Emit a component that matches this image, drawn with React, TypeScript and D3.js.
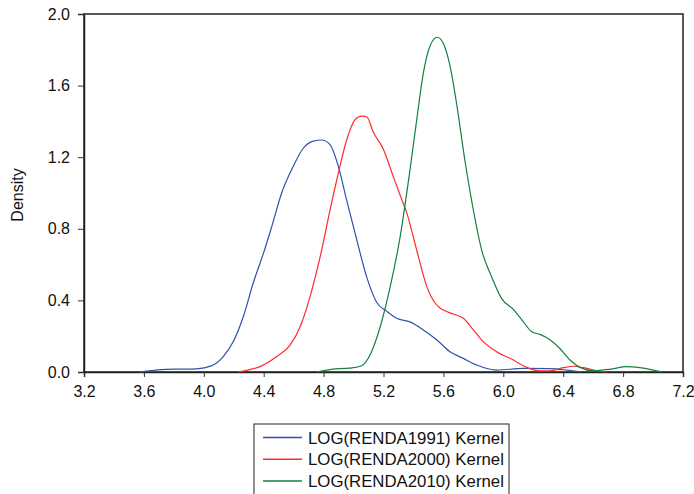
// App.tsx > KernelDensityChart
import React, {useRef, useEffect} from 'react';
import * as d3 from 'd3';

// data
const xTicks = [3.2, 3.6, 4.0, 4.4, 4.8, 5.2, 5.6, 6.0, 6.4, 6.8, 7.2];
const yTicks = [0.0, 0.4, 0.8, 1.2, 1.6, 2.0];

const renda1991: [number, number][] = [
    [3.57, 0], [3.65, 0.008], [3.75, 0.015], [3.85, 0.016], [3.95, 0.018], [4.05, 0.034],
    [4.13, 0.086], [4.197, 0.17], [4.264, 0.31], [4.331, 0.5], [4.397, 0.66], [4.453, 0.81],
    [4.52, 1.0], [4.598, 1.15], [4.664, 1.25], [4.731, 1.29], [4.787, 1.296], [4.843, 1.27],
    [4.898, 1.15], [4.954, 0.96], [5.021, 0.74], [5.088, 0.53], [5.154, 0.39], [5.221, 0.34],
    [5.288, 0.3], [5.377, 0.28], [5.466, 0.235], [5.555, 0.18], [5.644, 0.113], [5.733, 0.076],
    [5.822, 0.039], [5.956, 0.011], [6.134, 0.02], [6.312, 0.019], [6.423, 0.011], [6.52, 0],
];
const renda2000: [number, number][] = [
    [4.23, 0], [4.3, 0.012], [4.375, 0.03], [4.487, 0.086], [4.576, 0.15], [4.642, 0.25],
    [4.709, 0.42], [4.776, 0.64], [4.843, 0.905], [4.898, 1.11], [4.954, 1.296], [5.01, 1.41],
    [5.054, 1.43], [5.088, 1.426], [5.132, 1.34], [5.199, 1.245], [5.266, 1.09], [5.31, 0.99],
    [5.355, 0.89], [5.422, 0.68], [5.488, 0.48], [5.566, 0.365], [5.666, 0.324], [5.733, 0.3],
    [5.8, 0.235], [5.866, 0.17], [5.956, 0.113], [6.067, 0.067], [6.156, 0.026], [6.245, 0.006],
    [6.312, 0.007], [6.401, 0.024], [6.468, 0.032], [6.534, 0.024], [6.623, 0.007], [6.69, 0],
];
const renda2010: [number, number][] = [
    [4.754, 0], [4.85, 0.015], [4.976, 0.022], [5.054, 0.035], [5.11, 0.095], [5.177, 0.25],
    [5.243, 0.47], [5.31, 0.75], [5.377, 1.13], [5.422, 1.41], [5.466, 1.67], [5.51, 1.82],
    [5.559, 1.87], [5.599, 1.836], [5.644, 1.71], [5.688, 1.5], [5.744, 1.18], [5.8, 0.905],
    [5.856, 0.68], [5.923, 0.53], [5.989, 0.41], [6.067, 0.35], [6.134, 0.28], [6.19, 0.225],
    [6.245, 0.21], [6.312, 0.18], [6.379, 0.13], [6.445, 0.067], [6.512, 0.026], [6.601, 0.007],
    [6.712, 0.015], [6.823, 0.03], [6.912, 0.024], [6.979, 0.015], [7.058, 0],
];

const seriesNames = ['LOG(RENDA1991) Kernel', 'LOG(RENDA2000) Kernel', 'LOG(RENDA2010) Kernel'];
const seriesColors = ['#2f52aa', '#ff2a2a', '#138040'];
const seriesData = [renda1991, renda2000, renda2010];

// start
export default function App(){
    const svgRef = useRef<SVGSVGElement>(null);
    const svgWidth = 694;
    const svgHeight = 494;
    const font = '"Liberation Sans", Arial, sans-serif';

    useEffect(() => {
        const svg = d3.select(svgRef.current);
        svg.selectAll('*').remove();

        const xScale = d3.scaleLinear().domain([3.2, 7.2]).range([84, 683]);
        const yScale = d3.scaleLinear().domain([0, 2.0]).range([372, 14]);

        // frame
        svg.append('rect')
            .attr('x', 84).attr('y', 14)
            .attr('width', 599).attr('height', 358)
            .attr('fill', 'none')
            .attr('stroke', '#222')
            .attr('stroke-width', 1.5);

        // axes
        const xAxis = svg.append('g')
            .attr('transform', 'translate(0,372)')
            .call(d3.axisBottom(xScale).tickValues(xTicks).tickFormat(d3.format('.1f')).tickSizeOuter(0).tickSize(5).tickPadding(9));
        const yAxis = svg.append('g')
            .attr('transform', 'translate(84,0)')
            .call(d3.axisLeft(yScale).tickValues(yTicks).tickFormat(d3.format('.1f')).tickSizeOuter(0).tickSize(6).tickPadding(8));
        [xAxis, yAxis].forEach((ax) => {
            ax.select('.domain').attr('stroke', '#222').attr('stroke-width', 1.5);
            ax.selectAll('line').attr('stroke', '#333');
            ax.selectAll('text')
                .attr('fill', '#111')
                .style('font-family', font)
                .style('font-size', '16px');
        });

        // y label
        svg.append('text')
            .attr('transform', 'translate(23,195) rotate(-90)')
            .attr('text-anchor', 'middle')
            .style('font-family', font)
            .style('font-size', '16px')
            .attr('fill', '#111')
            .text('Density');

        // curves
        const line = d3.line<[number, number]>()
            .x((d) => xScale(d[0]))
            .y((d) => yScale(d[1]))
            .curve(d3.curveMonotoneX);
        seriesData.forEach((arr, i) => {
            svg.append('path')
                .datum(arr)
                .attr('d', line)
                .attr('fill', 'none')
                .attr('stroke', seriesColors[i])
                .attr('stroke-width', 1.2);
        });

        // legend
        const legend = svg.append('g').attr('transform', 'translate(254,424)');
        legend.append('rect')
            .attr('x', 0).attr('y', 0)
            .attr('width', 255).attr('height', 80)
            .attr('fill', 'white')
            .attr('stroke', '#222')
            .attr('stroke-width', 1);
        seriesNames.forEach((name, i) => {
            const yRow = 13.5 + i * 21.8;
            legend.append('line')
                .attr('x1', 9).attr('x2', 48)
                .attr('y1', yRow).attr('y2', yRow)
                .attr('stroke', seriesColors[i])
                .attr('stroke-width', 1.5);
            legend.append('text')
                .attr('x', 54).attr('y', yRow + 6)
                .style('font-family', font)
                .style('font-size', '16.8px')
                .attr('fill', '#111')
                .text(name);
        });
    }, []);

    return(
        <div style={{position: 'absolute', left: 0, top: 0, background: 'white'}}>
            <svg ref={svgRef} width={svgWidth} height={svgHeight}></svg>
        </div>
    )
}
